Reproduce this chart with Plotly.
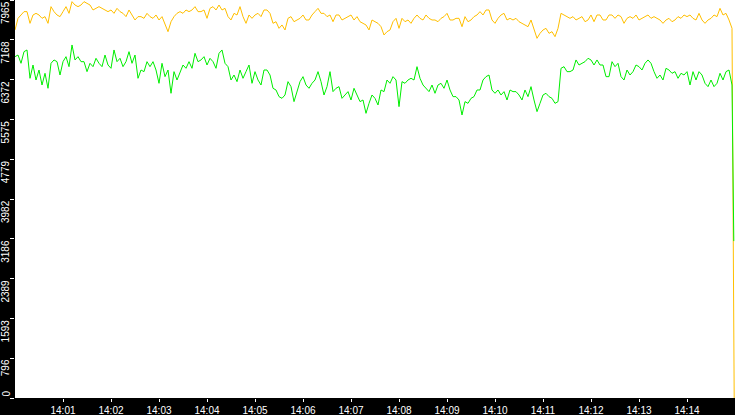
import plotly.graph_objects as go
import pandas as pd

# ---- data ----
START = "2024-01-01 14:00:00"
END = "2024-01-01 14:15:00"
SAMPLE_STEP_MS = 3750

orange_values = [
    7365, 7598, 7665, 7732, 7732, 7498, 7665, 7698, 7665, 7598, 7632, 7498, 7832, 7732, 7665, 7632, 7732, 7832, 7698, 7932,
    7865, 7832, 7865, 7932, 7898, 7865, 7765, 7798, 7832, 7798, 7765, 7732, 7765, 7698, 7798, 7732, 7698, 7632, 7765, 7665,
    7565, 7632, 7632, 7598, 7698, 7632, 7598, 7665, 7565, 7632, 7465, 7331, 7531, 7632, 7698, 7732, 7698, 7765, 7732, 7765,
    7832, 7732, 7732, 7765, 7598, 7798, 7832, 7765, 7865, 7765, 7798, 7632, 7565, 7698, 7665, 7832, 7632, 7498, 7665, 7598,
    7665, 7698, 7632, 7765, 7765, 7698, 7498, 7531, 7398, 7465, 7365, 7598, 7632, 7531, 7565, 7598, 7665, 7565, 7565, 7665,
    7732, 7798, 7698, 7698, 7632, 7665, 7531, 7665, 7665, 7565, 7598, 7632, 7665, 7565, 7632, 7531, 7498, 7465, 7365, 7565,
    7531, 7498, 7431, 7265, 7331, 7365, 7531, 7598, 7398, 7598, 7531, 7565, 7498, 7598, 7665, 7598, 7565, 7665, 7598, 7565,
    7565, 7531, 7598, 7632, 7698, 7565, 7565, 7598, 7598, 7431, 7632, 7531, 7565, 7632, 7665, 7732, 7665, 7765, 7765, 7565,
    7498, 7598, 7665, 7698, 7565, 7598, 7565, 7598, 7531, 7498, 7465, 7431, 7565, 7365, 7198, 7298, 7365, 7398, 7298, 7331,
    7231, 7398, 7698, 7665, 7632, 7598, 7632, 7565, 7598, 7632, 7531, 7565, 7665, 7531, 7665, 7665, 7565, 7565, 7665, 7665,
    7598, 7665, 7632, 7498, 7598, 7632, 7598, 7665, 7565, 7598, 7632, 7665, 7598, 7632, 7598, 7565, 7498, 7565, 7598, 7531,
    7565, 7632, 7598, 7665, 7632, 7665, 7598, 7565, 7698, 7565, 7498, 7565, 7598, 7665, 7632, 7798, 7665, 7698, 7565, 7398,
]
orange_last_time = "2024-01-01 14:14:59"
orange_last_value = 0

green_values = [
    6831, 6864, 6698, 6931, 6965, 6398, 6664, 6364, 6564, 6264, 6498, 6198, 6698, 6765, 6731, 6464, 6731, 6831, 6631, 7065,
    6765, 6831, 6731, 6731, 6531, 6698, 6631, 6798, 6698, 6631, 6864, 6664, 6598, 6965, 6731, 6798, 6631, 6731, 6931, 6698,
    6864, 6398, 6564, 6531, 6731, 6631, 6731, 6564, 6298, 6698, 6431, 6564, 6098, 6531, 6364, 6531, 6664, 6598, 6731, 6598,
    6898, 6731, 6765, 6831, 6664, 6798, 6731, 6598, 6898, 6965, 6698, 6631, 6364, 6464, 6331, 6564, 6398, 6531, 6664, 6298,
    6531, 6364, 6264, 6564, 6564, 6464, 6198, 6164, 6031, 5997, 6064, 6331, 6231, 5931, 6131, 6331, 6431, 6264, 6198, 6298,
    6364, 6531, 6331, 6064, 6231, 6531, 6131, 6198, 6231, 5997, 6064, 6131, 5964, 6198, 6064, 5931, 5964, 5697, 5897, 6064,
    5997, 5864, 6164, 6131, 6364, 6298, 6431, 6364, 5831, 6331, 6298, 6364, 6398, 6364, 6631, 6398, 6264, 6198, 6131, 6264,
    6098, 6264, 6298, 6198, 6364, 6164, 6031, 6031, 5964, 5664, 5931, 5897, 5997, 6031, 6164, 6164, 6364, 6431, 6464, 6164,
    6098, 6164, 6064, 6131, 5964, 6164, 6131, 6131, 6064, 5964, 6164, 6031, 6231, 5964, 5731, 5897, 6064, 6098, 6031, 5997,
    5897, 5931, 6598, 6631, 6531, 6531, 6564, 6765, 6664, 6698, 6731, 6798, 6765, 6664, 6765, 6664, 6664, 6431, 6431, 6731,
    6631, 6698, 6431, 6364, 6564, 6464, 6531, 6664, 6631, 6564, 6698, 6765, 6698, 6531, 6398, 6464, 6364, 6598, 6564, 6498,
    6531, 6398, 6498, 6464, 6531, 6264, 6531, 6364, 6531, 6464, 6298, 6231, 6364, 6231, 6298, 6498, 6364, 6531, 6564, 6264,
]
green_last_time = "2024-01-01 14:14:58.5"
green_last_value = 3140

y_tick_values = [0, 796.5, 1593, 2389.5, 3186, 3982.5, 4779, 5575.5, 6372, 7168.5, 7965]
y_tick_labels = ["0", "796", "1593", "2389", "3186", "3982", "4779", "5575", "6372", "7168", "7965"]
x_tick_values = ["2024-01-01 14:%02d:00" % m for m in range(1, 15)]
x_tick_labels = ["14:01", "14:02", "14:03", "14:04", "14:05", "14:06", "14:07",
                 "14:08", "14:09", "14:10", "14:11", "14:12", "14:13", "14:14"]

# ---- build ----
def times_for(n, last_time):
    t = list(pd.date_range(START, periods=n, freq="%dms" % SAMPLE_STEP_MS))
    t.append(pd.Timestamp(last_time))
    return t

orange_x = times_for(len(orange_values), orange_last_time)
orange_y = orange_values + [orange_last_value]
green_x = times_for(len(green_values), green_last_time)
green_y = green_values + [green_last_value]

FONT = "Liberation Sans, Arial, sans-serif"

fig = go.Figure()
fig.add_trace(go.Scatter(x=orange_x, y=orange_y, mode="lines",
                         line=dict(color="#FFBF00", width=1), hoverinfo="skip", showlegend=False))
fig.add_trace(go.Scatter(x=green_x, y=green_y, mode="lines",
                         line=dict(color="#00EE00", width=1), hoverinfo="skip", showlegend=False))

annotations = []
for i, (v, lab) in enumerate(zip(y_tick_values, y_tick_labels)):
    annotations.append(dict(
        x=0, xref="paper", y=v, yref="y", text=lab, showarrow=False,
        textangle=-90, xanchor="right", yanchor="bottom" if i == 0 else "top",
        xshift=-3, font=dict(color="white", size=10, family=FONT),
        borderpad=0,
    ))

fig.update_layout(
    width=735, height=415,
    margin=dict(l=15, r=0, t=0, b=17, autoexpand=False),
    paper_bgcolor="black", plot_bgcolor="white",
    showlegend=False,
    annotations=annotations,
    xaxis=dict(
        type="date", range=[START, END], automargin=False,
        tickvals=x_tick_values, ticktext=x_tick_labels,
        ticks="outside", ticklen=3, tickwidth=1, tickcolor="white",
        tickfont=dict(color="white", size=10, family=FONT),
        showgrid=False, zeroline=False, showline=False,
    ),
    yaxis=dict(
        range=[0, 7965], automargin=False,
        tickvals=y_tick_values, showticklabels=False,
        ticks="outside", ticklen=4, tickwidth=1, tickcolor="white",
        showgrid=False, zeroline=False, showline=False,
    ),
)

fig.write_html("out.html", config={"displayModeBar": False},
               post_script="document.body.style.margin='0';document.body.style.padding='0';")
